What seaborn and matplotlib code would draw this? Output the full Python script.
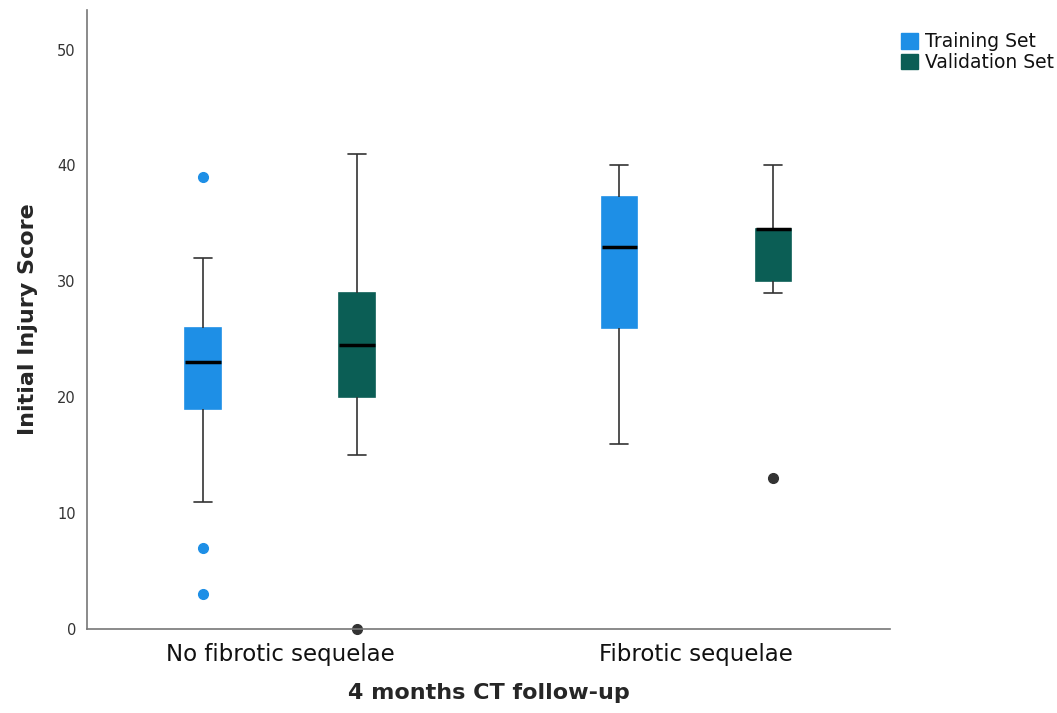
import numpy as np
import pandas as pd
import matplotlib
matplotlib.use("Agg")
import matplotlib.pyplot as plt
import seaborn as sns
from matplotlib.patches import Patch

# ---- data ----
categories = ["No fibrotic sequelae", "Fibrotic sequelae"]
sets = ["Training Set", "Validation Set"]

train_no_fib = [3, 7, 11, 19, 20, 22, 23, 24, 25, 26, 30, 32, 39]
valid_no_fib = [0, 15, 20, 20, 22, 24, 25, 27, 29, 29, 35, 41]
train_fib = [16, 20, 24, 26, 28, 31, 33, 34, 35, 37.25, 38, 39, 40]
valid_fib = [13, 29, 30, 32, 34.5, 34.5, 34.5, 37, 40]

yticks = [0, 10, 20, 30, 40, 50]
colors = ["#1E8FE6", "#0B5E55"]

rows = []
for cat, st, vals in [(categories[0], sets[0], train_no_fib),
                      (categories[0], sets[1], valid_no_fib),
                      (categories[1], sets[0], train_fib),
                      (categories[1], sets[1], valid_fib)]:
    for v in vals:
        rows.append({"group": cat, "set": st, "score": v})
df = pd.DataFrame(rows)

sns.set_theme(style="white")
plt.rcParams['font.family'] = ['DejaVu Sans']

fig = plt.figure(figsize=(10.57, 7.13), dpi=100)
ax = fig.add_axes([0.0823, 0.1178, 0.760, 0.868])

sns.boxplot(data=df, x="group", y="score", hue="set", order=categories,
            hue_order=sets, palette=colors, width=0.74, gap=0.77,
            linecolor="#333333", linewidth=1.2, saturation=1,
            flierprops=dict(marker="o", markersize=7),
            medianprops=dict(color="black", linewidth=2.5),
            legend=False, ax=ax)

for cont, col in zip(ax.containers, colors):
    for b in cont.boxes:
        b.set_edgecolor(col)
        b.set_facecolor(col)
    fl_col = "#1E8FE6" if col == colors[0] else "#333333"
    for f in cont.fliers:
        f.set_markerfacecolor(fl_col)
        f.set_markeredgecolor(fl_col)
        f.set_clip_on(False)

ax.set_ylim(0, 53.4)
ax.set_xlim(-0.464, 1.466)
ax.set_yticks(yticks)
ax.set_yticklabels([str(t) for t in yticks], fontsize=10.5, color="#333333")
ax.tick_params(axis="y", length=0, pad=8)
ax.tick_params(axis="x", length=0, pad=10)
for lab in ax.get_xticklabels():
    lab.set_fontsize(16.5)
    lab.set_family(["Liberation Sans Narrow", "DejaVu Sans"])
    lab.set_color("#111111")

ax.set_ylabel("Initial Injury Score", fontsize=16, fontweight="bold", labelpad=14,
              family=["Liberation Sans Narrow", "DejaVu Sans"])
ax.set_xlabel("4 months CT follow-up", fontsize=16, fontweight="bold", labelpad=12,
              family=["DejaVu Sans"])

for s in ["top", "right"]:
    ax.spines[s].set_visible(False)
for s in ["left", "bottom"]:
    ax.spines[s].set_color("#777777")
    ax.spines[s].set_linewidth(1.2)

handles = [Patch(facecolor=c, edgecolor=c, label=l) for c, l in zip(colors, sets)]
leg = fig.legend(handles=handles, loc="upper left", bbox_to_anchor=(0.849, 0.96),
                 frameon=False, fontsize=13.5, handlelength=0.9, handleheight=0.9,
                 handletextpad=0.35, labelspacing=0.1, borderaxespad=0, borderpad=0.2)
for t in leg.get_texts():
    t.set_color("#111111")

fig.savefig("out.png", dpi=100, facecolor="white")
